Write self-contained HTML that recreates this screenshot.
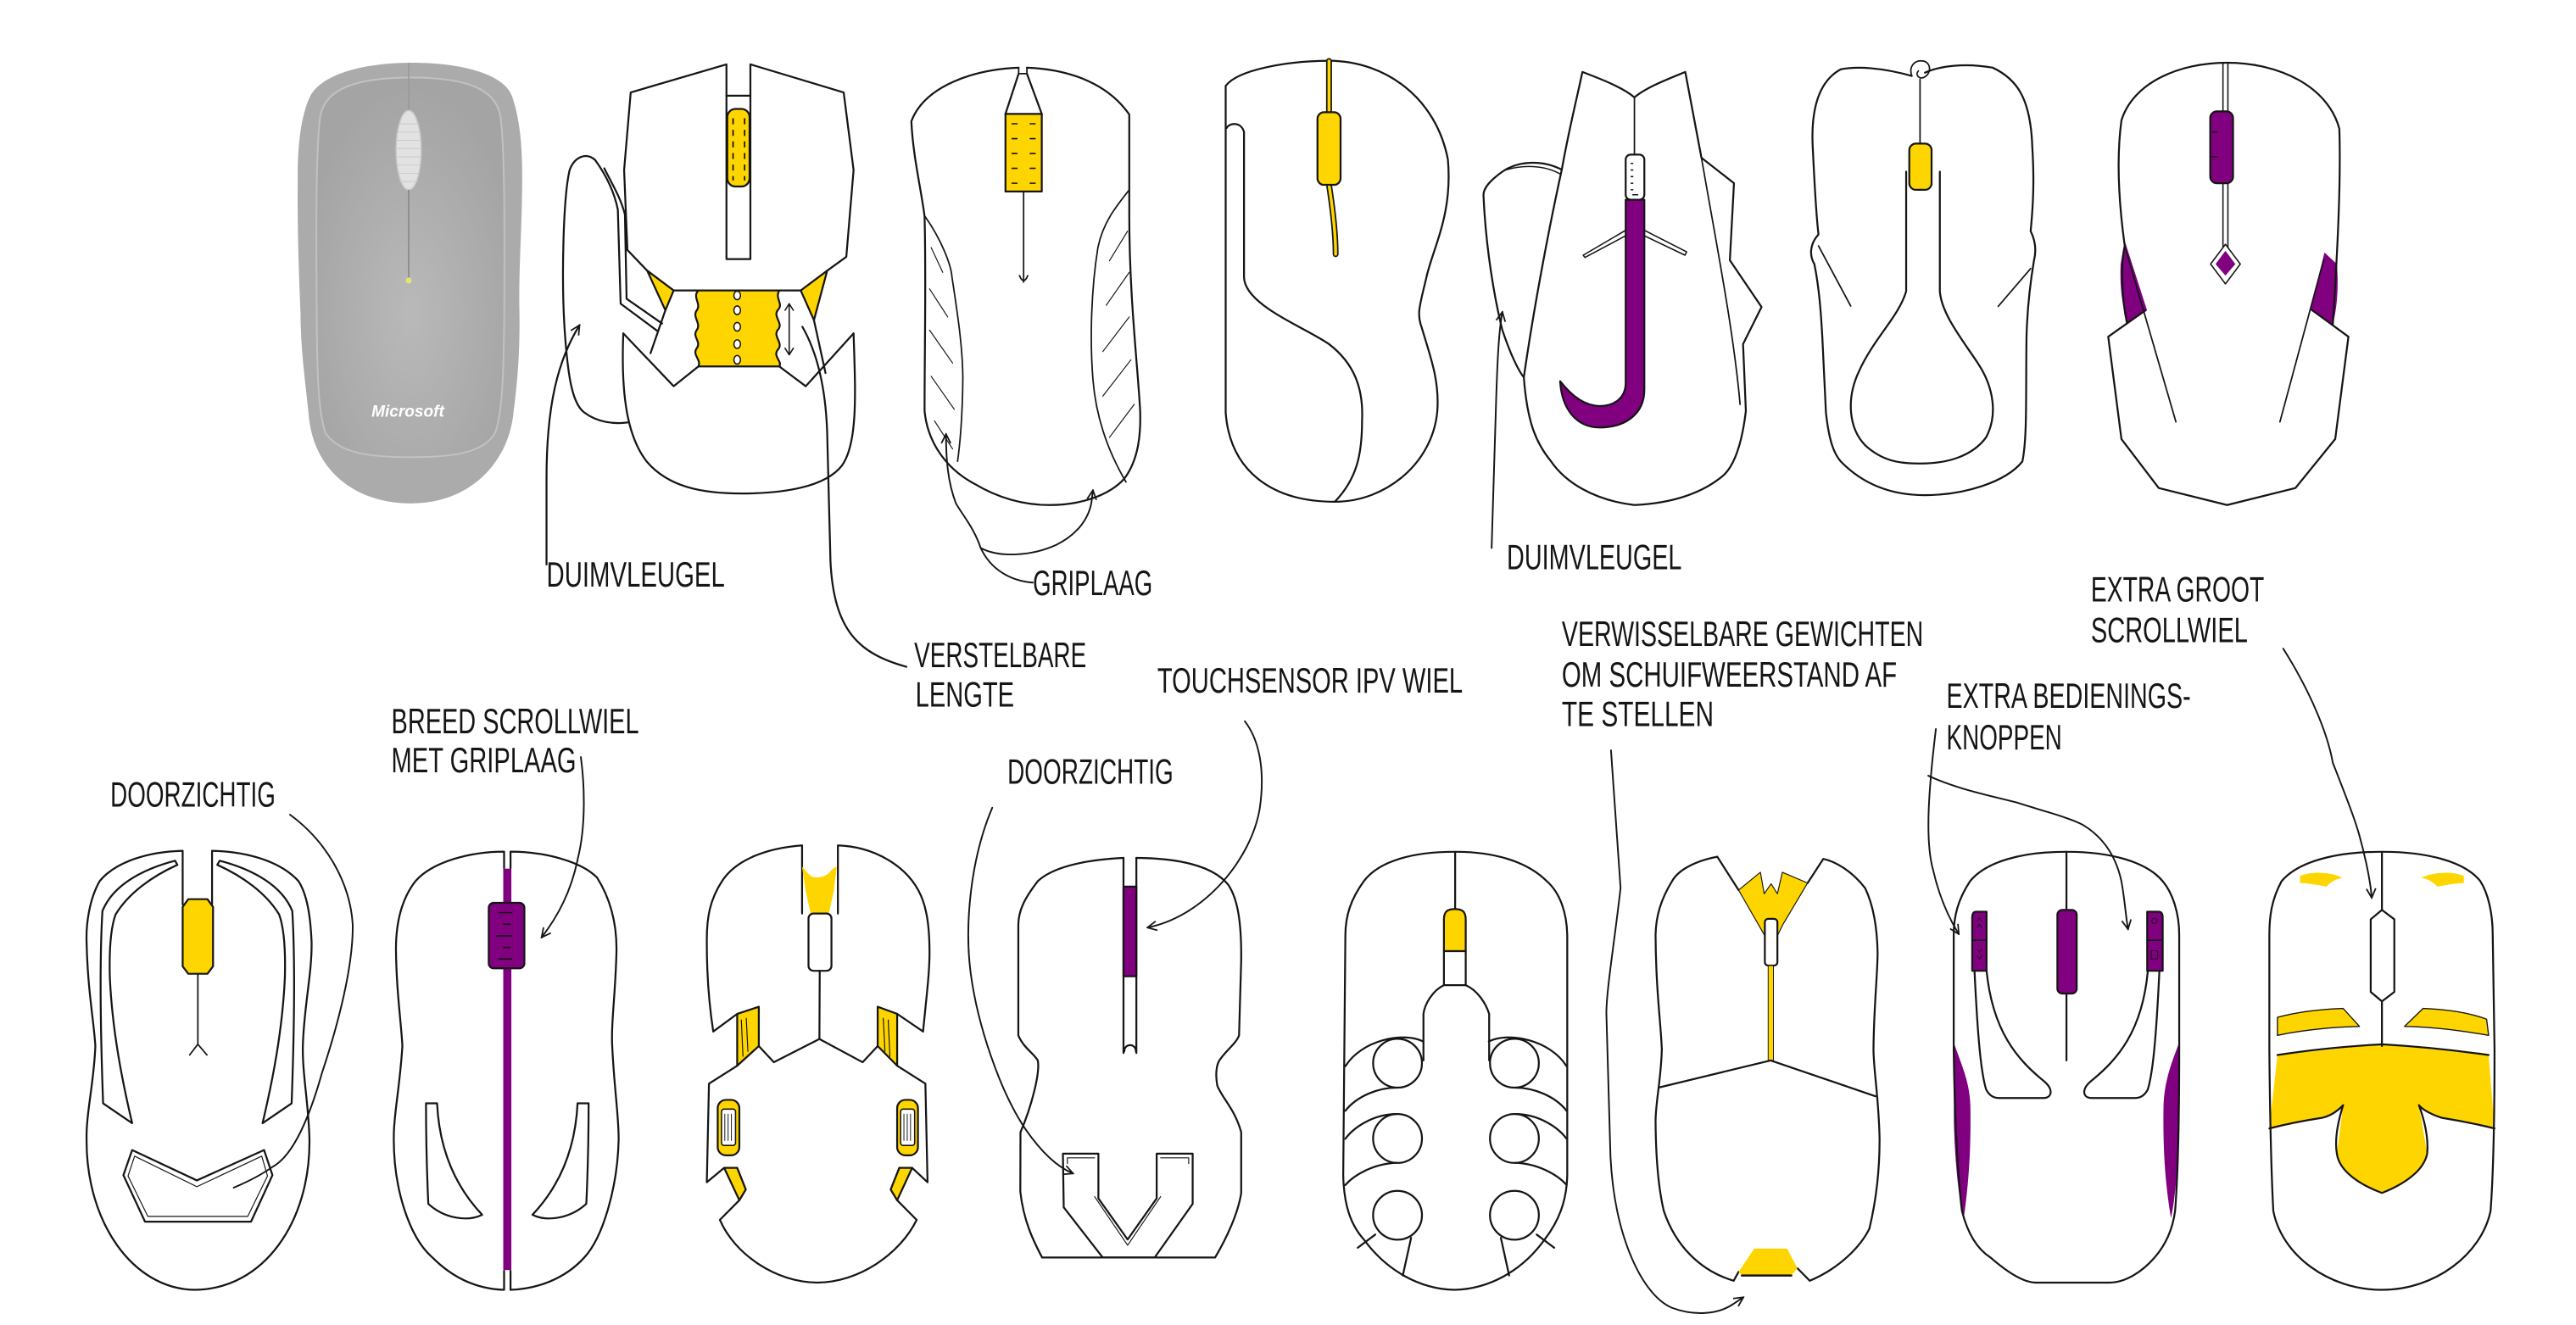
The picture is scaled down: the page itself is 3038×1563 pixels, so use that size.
<!DOCTYPE html>
<html><head><meta charset="utf-8"><style>
html,body{margin:0;padding:0;background:#fff;}
svg{display:block;}
text{font-family:"Liberation Sans Narrow","Liberation Sans",sans-serif;font-size:21.5px;fill:#151515;}
</style></head><body>
<svg width="3038" height="1563" viewBox="0 0 1560.3 802.8" xmlns="http://www.w3.org/2000/svg">
<defs>
<marker id="ah" viewBox="0 0 10 10" refX="9" refY="5" markerWidth="7" markerHeight="7" markerUnits="userSpaceOnUse" orient="auto"><path d="M1,1 L9,5 L1,9" fill="none" stroke="#151515" stroke-width="1.3"/></marker>
<radialGradient id="gg" cx="0.5" cy="0.62" r="0.6"><stop offset="0" stop-color="#b9b9b9"/><stop offset="1" stop-color="#a4a4a4"/></radialGradient>
</defs>
<rect width="1560.3" height="802.8" fill="#fff"/>

<!-- ============ GREY MICROSOFT MOUSE ============ -->
<path d="M249,38 C280,38 305,45 310,58 C316,75 316.5,95 316.2,115 C316,140 314,165 314.6,190 C315,215 313,235 311,250 C308,280 285,305 249,305 C215,305 190,285 187,252 C185,232 182,212 182,190 C181,165 180,140 180.3,110 C180,90 182,70 188,58 C195,45 220,38 249,38 Z" fill="#ababab"/>
<path d="M249,47 C285,47 300,55 303,70 C306,90 305.5,150 305.4,190 C305,230 304,250 300,262 C293,275 272,277 249,277 C225,277 205,275 197,262 C193,250 192,230 191.8,190 C191.6,150 191,90 194,70 C197,55 213,47 249,47 Z" fill="url(#gg)" stroke="#c2c2c2" stroke-width="1"/>
<line x1="247.5" y1="38" x2="247.5" y2="67" stroke="#999" stroke-width="0.8"/>
<ellipse cx="247.5" cy="91" rx="7.6" ry="24" fill="#e2e2e2" stroke="#c8c8c8" stroke-width="0.8"/>
<g stroke="#c9c9c9" stroke-width="0.5">
<line x1="242" y1="75" x2="253" y2="75"/><line x1="241" y1="80" x2="254" y2="80"/><line x1="240.5" y1="85" x2="254.5" y2="85"/><line x1="240.5" y1="90" x2="254.5" y2="90"/><line x1="240.5" y1="95" x2="254.5" y2="95"/><line x1="240.5" y1="100" x2="254.5" y2="100"/><line x1="241" y1="105" x2="254" y2="105"/><line x1="242" y1="110" x2="253" y2="110"/></g>
<line x1="247.5" y1="115" x2="247.5" y2="168" stroke="#8a8a8a" stroke-width="0.9"/>
<circle cx="247.5" cy="170" r="1.8" fill="#dfe86a"/>
<text x="225" y="252.5" textLength="44" lengthAdjust="spacingAndGlyphs" style="font-family:'Liberation Sans',sans-serif;font-size:10px;font-weight:bold;font-style:italic;fill:#fff;">Microsoft</text>

<g fill="none" stroke="#151515" stroke-width="1.15" stroke-linejoin="round" stroke-linecap="round">

<!-- ============ TOP MOUSE 2 (adjustable) ============ -->
<path d="M360.5,97 C355,92 348,95 345,103 C341,120 340,170 342,200 C344,230 347,245 354,250 C362,256 372,257 380,256"/>
<path d="M360.5,97 C367,106 372,116 374.2,127 L375.9,184 L398,200.4"/>
<path d="M366,102 C371,112 376,120 378.5,130 L379.5,181 L401,196"/>
<path d="M382,56 L440,39 L440,157 L454.5,157 L454.5,39 L511,56 L517,103 L512.6,155.6 L501,164 L487,176 L423,176 L408,176 L392,164 L380,151.5 L378,103 Z" fill="#fff"/>
<line x1="440" y1="58" x2="454.5" y2="58"/>
<path d="M392,164 L408,176 L403,188 Z" fill="#FFD500"/>
<path d="M501,164 L485,176 L493,194 Z" fill="#FFD500"/>
<path d="M377.5,202 L408,234 L423,222"/>
<path d="M517,202 L488,234 L472,222"/>
<path d="M403,188 L394,214"/>
<path d="M493,194 L500,226"/>
<path d="M377.5,202 C376,240 380,265 392,280 C405,295 425,299 449,299 C475,299 500,295 510,282 C520,268 518,235 517,202"/>
<rect x="440.5" y="66" width="13.5" height="47" rx="5" fill="#FFD500"/>
<g stroke-width="0.9"><path d="M444,72 v3 M444,79 v3 M444,86 v3 M444,93 v3 M444,100 v3 M444,107 v2 M451,72 v3 M451,79 v3 M451,86 v3 M451,93 v3 M451,100 v3 M451,107 v2"/></g>
<path d="M423,176 L472,176 C469,181 475,184 471,188 C468,192 475,196 471,200 C468,204 475,208 471,212 C468,216 474,219 472,222 L423,222 C425,218 419,215 422,211 C425,207 419,204 422,200 C425,196 419,192 422,188 C425,184 419,180 423,176 Z" fill="#FFD500"/>
<g fill="#fff" stroke-width="0.8">
<ellipse cx="446.5" cy="179" rx="2" ry="2.6"/><ellipse cx="446.5" cy="188" rx="2" ry="2.6"/><ellipse cx="446.5" cy="198" rx="2" ry="2.6"/><ellipse cx="446.5" cy="208.5" rx="2" ry="2.6"/><ellipse cx="446.5" cy="218" rx="2" ry="2.6"/></g>
<path d="M478,185 L478,214 M475.5,188 L478,184 L480.5,188 M475.5,211 L478,215 L480.5,211" stroke-width="0.8"/>
<path d="M331,342 L331,290 C331,245 338,218 351,197" marker-end="url(#ah)"/>
<path d="M549,404 C520,396 505,382 503,340 L501,262 C500,232 494,212 486,198"/>

<!-- ============ TOP MOUSE 3 (griplaag) ============ -->
<path d="M617,41 C590,42 560,52 552,73.5 C553,95 558,115 560,131 C561,170 560,210 560,249 C562,270 575,285 590,293 C605,302 620,306 635.6,306 C655,306 672,300 681,290 C690,278 691,262 690.6,249 C689,220 684,180 684,130 L684,69.4 C672,52 650,42 622,41"/>
<path d="M617,41 L617,44.6 L622,44.6 L622,41" stroke-width="0.9"/>
<path d="M617,44.6 L609,69 M622,44.6 L631,69"/>
<path d="M609,69 L631,69 L631,116 L609,116 Z" fill="#FFD500"/>
<g stroke-width="0.8"><path d="M613,75 h3 M613,84 h3 M613,93 h3 M613,102 h3 M613,111 h3 M624,75 h3 M624,84 h3 M624,93 h3 M624,102 h3 M624,111 h3"/></g>
<path d="M620,116 L620,171 M617.5,167 Q620,173 622.5,167" stroke-width="0.9"/>
<path d="M560.4,131.3 C570,145 576,160 576.6,167.8 C580,190 583,210 583.2,228.8 C583,250 582,265 580,279.5" stroke-width="0.9"/>
<g stroke-width="0.6"><path d="M564,150 L571,165 M563,175 L574,192 M563,200 L577,220 M564,228 L578,248 M566,255 L577,272"/></g>
<path d="M684,115 C676,125 668,135 665,150 C661,175 660,205 662,230 C664,255 672,275 682,292" stroke-width="0.9"/>
<g stroke-width="0.6"><path d="M683,140 L672,158 M684,165 L670,185 M684,192 L668,213 M685,218 L668,240 M687,245 L672,265"/></g>
<path d="M625.6,353 C612,352 600,345 594,332 C590,320 583,312 579,305 C574,292 573,278 573,263" stroke-width="1" marker-end="url(#ah)"/>
<path d="M594,332 C605,338 625,337 640,330 C652,324 659,315 661,305 L662,297" stroke-width="1" marker-end="url(#ah)"/>

<!-- ============ TOP MOUSE 4 (S-line) ============ -->
<path d="M742.4,52 C750,42 780,37 805,36.8 C840,37 870,60 877,96.6 C880,130 868,150 864,168 C860,185 858,190 861,198 C866,215 872,230 870.6,249 C868,280 840,304 808.5,304 C770,304 745,285 742.4,250 Z"/>
<path d="M743,77.5 C745,74 752,74 753.5,80 L753.5,168 C754,185 790,198 805,208.5 C820,220 826,235 825,255 C825,275 822,290 808.5,304"/>
<path d="M805,37 L805,68 M805,112 C807,125 809,140 809,154" stroke="#151515" stroke-width="3.6"/>
<path d="M805,37 L805,68 M805,112 C807,125 809,140 809,154" stroke="#FFD500" stroke-width="1.8"/>
<rect x="798" y="68" width="14" height="44" rx="4" fill="#FFD500"/>

<!-- ============ TOP MOUSE 5 (J) ============ -->
<path d="M946,102.8 C935,97 920,97 910,104 C903,109 898,114 898.6,119 C900,150 905,180 910,200 C915,215 920,225 923,228.6"/>
<path d="M912,103 C925,99 938,101 946,106" stroke-width="0.8"/>
<path d="M958.5,43.6 C970,48 983,53 990,59 C997,53 1010,48 1020.8,43.6 L1030.6,95.6 L1050.3,111 L1047.8,157.7 L1067,186 L1055.8,208.5 L1057.5,249 C1055,270 1050,282 1044.4,287.6 C1030,300 1010,305 990,306 C965,303 948,292 939.4,279.4 C930,268 925,255 923,228.6 C930,180 940,130 946,102.8 C950,80 955,60 958.5,43.6 Z" fill="#fff"/>
<path d="M1030.6,95.6 C1040,150 1050,200 1054,245" stroke-width="0.9"/>
<line x1="990" y1="59" x2="990" y2="94" stroke-width="0.9"/>
<path d="M989,137 L959,154.6 L960,156 L990,140 M991,137 L1021.6,152.6 L1020.6,154.6 L990,140" stroke-width="0.8"/>
<rect x="984.7" y="93.7" width="11.3" height="27.3" rx="3" fill="#fff"/>
<g stroke-width="0.8"><path d="M988,99 h1 M988,103 h1 M988,107 h1 M988,111 h1 M988,115 h1 M989,118 h3"/></g>
<path d="M984.7,121 H996 V236 C996,252 983,259 969,259 C955,259 946,248 945,231 C952,240 960,246 969,246 C979,246 984.7,240 984.7,232 Z" fill="#800080"/>
<path d="M903.5,332 L906,250 C907,215 908,200 910,189" stroke-width="1" marker-end="url(#ah)"/>

<!-- ============ TOP MOUSE 6 (drop) ============ -->
<path d="M1158,46 C1140,41 1125,40 1115,42 C1100,50 1097,70 1098,89 C1099,110 1100,130 1101.5,142 C1096,148 1096,155 1099,160 C1102,175 1103,190 1103.8,204 L1106,250 C1108,268 1111,275 1115,279.6 C1130,295 1148,300 1165.7,300 C1190,300 1215,292 1225,279.6 C1228,265 1227,240 1227.5,204 C1228,185 1230,170 1232,158 C1234,150 1232,144 1230,140 C1232,120 1232,105 1231,89 C1230,60 1222,48 1207,41 C1190,38 1175,40 1166,44"/>
<path d="M1158,46 C1156,40 1160,36 1165,37 C1170,38 1170,45 1165,47 C1162,48 1160,45 1162,43" stroke-width="0.9"/>
<line x1="1163" y1="48" x2="1163" y2="87" stroke-width="0.9"/>
<rect x="1156.5" y="87" width="13.5" height="28" rx="4" fill="#FFD500"/>
<path d="M1154.6,104 L1154.6,176.5 C1150,192 1135,205 1126,225 C1118,242 1120,260 1130,270 C1140,279 1150,281 1163,280.8 C1180,281 1195,276 1203,265 C1210,252 1208,235 1198,220 C1188,205 1176,190 1175,176.5 L1175,104"/>
<path d="M1101.5,149 L1121,185.4 M1230,162.7 L1210.4,185.6" stroke-width="0.9"/>

<!-- ============ TOP MOUSE 7 (diamond) ============ -->
<path d="M1287,146 L1300.5,188 L1289,196 C1285,185 1284,172 1284.5,160 Z" fill="#800080" stroke="none"/>
<path d="M1408,153 L1399.5,188 L1413,197 C1416,185 1416.5,172 1415.5,160 Z" fill="#800080" stroke="none"/>
<path d="M1288.4,196 C1285,180 1284.5,160 1287,149 C1283,120 1282,95 1285,73 C1292,50 1320,38 1349,38 C1380,38 1410,52 1417,78 C1418,110 1416,150 1413,197"/>
<path d="M1299.6,188 L1277,204 L1285,266 L1307.6,295.7 L1349,306 L1390.4,295.7 L1414.5,266 L1422.5,204 L1400.6,188"/>
<path d="M1287,149 L1318,255.6 M1407.6,157 L1381,255.6" stroke-width="0.9"/>
<path d="M1346.5,38 L1346.5,151 M1349.5,38 L1349.5,151" stroke-width="0.8"/>
<rect x="1338.8" y="67.5" width="13.8" height="43.5" rx="4" fill="#800080"/>
<path d="M1340,80 h3 M1340,95 h3" stroke-width="0.8"/>
<path d="M1348,148 L1357,160 L1348,172 L1339,160 Z" fill="#fff" stroke-width="0.8"/>
<path d="M1348,152 L1354,160 L1348,167 L1342,160 Z" fill="#800080" stroke="none"/>

<!-- ============ BOTTOM B1 (doorzichtig) ============ -->
<path d="M110.6,548 L110.6,515.5 C90,516 70,522 60.3,533.9 C54,545 52,560 52.4,570.8 C53,600 57,620 57.7,633.8 C57,655 52,675 52.4,690.3 C52,740 80,781 118,781.5 C160,781 188,740 187.4,690.3 C187,670 183,650 183.4,633.8 C184,610 189,590 188.7,570.8 C188,555 186,542 180.8,533.9 C170,522 150,516 128.4,515.5 L128.4,548"/>
<path d="M114,544.8 L125.6,544.8 L129,549.5 L129,585.5 L125.6,590 L114,590 L110.6,585.5 L110.6,549.5 Z" fill="#FFD500"/>
<path d="M119.8,590 L119.8,632.7 L114.8,639.2 M119.8,632.7 L125.3,639.2" stroke-width="0.9"/>
<path d="M106,521.5 C85,527 68,537 62,552 C60,585 61,630 62.4,668.5 L80,680.5 C74,655 68,625 66.5,592.5 C66,575 67,562 70,554 C78,541 92,531 107.4,524 Z"/>
<path d="M133,521.5 C154,527 171,537 177,552 C179,585 178,630 176.6,668.5 L159,680.5 C165,655 171,625 172.5,592.5 C173,575 172,562 169,554 C161,541 147,531 131.6,524 Z"/>
<path d="M80,696.8 L119.2,715.2 L159.9,696.8 L165,712 L152,740.2 L87.8,740.2 L74.7,712 Z"/>
<path d="M81.5,700.5 L119.2,719 L158.5,700.5 L162,712.5 L150,737 L89.5,737 L77.5,712.5 Z" stroke-width="0.6"/>
<path d="M175.6,493.6 C198,510 212,535 213.6,560 C214,585 205,620 195,650 C188,675 178,700 165,707 C158,712 150,716 141.5,719.6" stroke-width="1"/>

<!-- ============ BOTTOM B2 (breed scrollwiel) ============ -->
<path d="M305.3,526 L305.3,516 C285,516 262,522 251.6,533.9 C243,545 239.8,560 239.8,575 C240,600 243,620 243.7,633.8 C242,660 238.5,675 238.5,688 C238,720 248,750 262,762 C275,775 290,781 305.3,781.5 L305.3,770"/>
<path d="M309.2,526 L309.2,516 C330,516 352,522 361.6,531.7 C370,545 373.4,560 373.4,575 C373,600 370,620 370.8,633.8 C372,660 374.7,675 374.7,690.3 C374,720 365,750 353.8,762 C342,775 325,781 309.2,781.5 L309.2,770"/>
<rect x="304.8" y="526.3" width="4.9" height="243.2" fill="#800080" stroke="none"/>
<rect x="296" y="547" width="21.6" height="39.7" rx="3" fill="#800080"/>
<path d="M302,553 h8 M305,560 h4 M301,567 h9 M305,574 h4 M302,581 h8" stroke-width="0.8"/>
<path d="M258,668.5 H264.7 C266,695 275,718 292,736 C284,740 270,739 259.4,729.4 C258.5,710 258,690 258,668.5 Z"/>
<path d="M356.5,668.5 H349.8 C348.5,695 339.5,718 322.5,736 C330.5,740 344.5,739 355.1,729.4 C356,710 356.5,690 356.5,668.5 Z"/>
<path d="M351.8,458.7 C354,475 355,500 350,520 C346,540 338,555 328,568" stroke-width="1" marker-end="url(#ah)"/>

<!-- ============ BOTTOM B3 ============ -->
<path d="M485.8,553.5 L485.8,512.2 C462,514 445,522 437.3,533.9 C430,545 428,556 428.1,570 C428,595 430,612 432,625 L446.5,614.3 L459.6,610 L459.6,633.8 L468.7,643.6 L496.3,629.5 L522.5,643.6 L531.6,633.8 L531.6,610 L543.4,614.3 L559.1,625 C561,605 563,590 563,577.3 C563,560 561,550 557.8,542.6 C550,525 530,513 507.5,512.2 L507.5,553.5"/>
<path d="M446.5,614.3 L459.6,610 L459.6,633.8 L446.5,645.7 Z" fill="#FFD500"/>
<path d="M531.6,610 L543.4,614.3 L543.4,645.7 L531.6,633.8 Z" fill="#FFD500"/>
<path d="M449,618 L450,640 M452,617 L453,637 M535,617 L536,637 M538,618 L539,640" stroke-width="0.6"/>
<path d="M485.8,525.2 C488,527 490,531 493,531.5 C496,532 500,531 502,529 C504,527 505,525.5 506.8,525.2 L505,540 L502,553.5 L491,553.5 L488,540 Z" fill="#FFD500" stroke="none"/>
<rect x="489.7" y="553.5" width="13.9" height="34.7" rx="3" fill="#fff"/>
<line x1="496.5" y1="588.2" x2="496.3" y2="629.5"/>
<path d="M446.5,645.7 L429.4,656.6 L428.1,716.3 L438.6,707.6 L446.5,707.6 L451.7,720.7 L447.8,727.2 L436,739.1 C445,760 470,777 495,777.1 C520,777 545,760 555.2,739.1 L543.4,727.2 L539.5,720.7 L544.7,707.6 L552.5,707.6 L561.8,716.3 L560.5,656.6 L543.4,645.7"/>
<path d="M438.6,707.6 L446.5,707.6 L451.7,720.7 L447.8,727.2 Z" fill="#FFD500"/>
<path d="M552.5,707.6 L544.7,707.6 L539.5,720.7 L543.4,727.2 Z" fill="#FFD500"/>
<rect x="434.7" y="666.4" width="13.1" height="33.6" rx="5" fill="#FFD500"/>
<rect x="437" y="672" width="8.5" height="22" rx="1.5" fill="#fff" stroke-width="0.8"/>
<path d="M439,675 v16 M441,675 v16 M443,675 v16" stroke-width="0.5"/>
<rect x="543.4" y="666.4" width="12.6" height="33.6" rx="5" fill="#FFD500"/>
<rect x="545.5" y="672" width="8.5" height="22" rx="1.5" fill="#fff" stroke-width="0.8"/>
<path d="M547.5,675 v16 M549.5,675 v16 M551.5,675 v16" stroke-width="0.5"/>

<!-- ============ BOTTOM B4 (touch) ============ -->
<path d="M680.5,519.8 C655,521 637,526 628.6,533.9 C620,545 617,552 616.8,560 L616.8,627.3 C620,635 626,638 628.6,642.5 C630,650 625,670 618.1,686 L618,722 C620,740 626,752 631.2,761.9 L736,761.9 C743,750 750,735 751.8,722.8 L751.8,686 C748,672 740,665 737.3,657.7 C736,650 737,645 738.6,642.5 C742,637 749,632 750.5,627.3 L751.8,581.7 C752,560 750,545 743.9,536 C735,525 715,520 688.3,519.8"/>
<path d="M680.5,519.8 L680.5,638 M688.3,519.8 L688.3,638 M681,637 C681,632 688,632 688,637"/>
<rect x="680.5" y="537.2" width="7.8" height="54.3" fill="#800080"/>
<path d="M643.8,699 H665.3 V726.1 L683,751 L700.6,726.1 V699 H722.4 V729.4 L699.4,761.9 H667.9 L644.3,731.5 Z"/>
<path d="M646.5,701.5 H663 M646.5,701.5 V705 M720,701.5 H703 M720,701.5 V705 M663,725 L683,754.5 L703,725" stroke-width="0.6"/>
<path d="M754,437 C764,450 766,470 763,490 C758,520 730,555 695,562" stroke-width="1" marker-end="url(#ah)"/>
<path d="M601,489.4 C588,520 584,560 588,590 C592,620 605,660 621,684 C630,697 640,707 650,711" stroke-width="1" marker-end="url(#ah)"/>

<!-- ============ BOTTOM B5 (circles) ============ -->
<path d="M881.4,516.1 C855,516 835,522 826.1,533.9 C818,545 815,555 814.9,566.5 L813.6,712 C814,730 818,742 826.1,751 C840,770 860,781 880.9,781.5 C902,781 922,770 935.6,751 C944,740 949,728 949.3,712 L949.3,566.5 C949,553 945,541 936.9,533.9 C925,522 905,516 881.4,516.1 Z"/>
<line x1="881.4" y1="516.1" x2="881.4" y2="551"/>
<path d="M874.6,557 C874.6,552 877,550.8 881.2,550.8 C885.4,550.8 887.8,552 887.8,557 L887.8,576.3 L874.6,576.3 Z" fill="#FFD500"/>
<rect x="874.6" y="576.3" width="13.2" height="20.6" fill="#fff"/>
<path d="M874.6,596.9 C868,600 863,608 862.2,614.3 L862.2,642.5 M887.8,596.9 C895,600 900,608 902,614.3 L902,642.5"/>
<g>
<circle cx="846.5" cy="644.2" r="14.8"/><circle cx="846.5" cy="689.8" r="14.8"/><circle cx="846.5" cy="736.3" r="14.8"/>
<circle cx="917.3" cy="644.2" r="14.8"/><circle cx="917.3" cy="689.8" r="14.8"/><circle cx="917.3" cy="736.3" r="14.8"/>
</g>
<path d="M862,631 C850,625 825,630 814.9,646 M846,659 C835,659 822,664 814.9,673 M846,675 C832,675 820,683 814.9,690 M846,704.5 C832,705 820,712 814.9,718 M833,748 L822.4,756 M854.7,750 L849.7,772.8"/>
<path d="M901.8,631 C913.8,625 938.8,630 948.9,646 M917.8,659 C928.8,659 941.8,664 948.9,673 M917.8,675 C931.8,675 943.8,683 948.9,690 M917.8,704.5 C931.8,705 943.8,712 948.9,718 M930.8,748 L941.4,756 M909.1,750 L914.1,772.8"/>

<!-- ============ BOTTOM B6 (weights) ============ -->
<path d="M1040.2,519.1 C1025,522 1016,528 1012.8,533.9 C1006,545 1003,555 1002.8,566.5 C1003,600 1006,620 1006.6,636 C1006,655 1002.8,668 1002.8,679.4 C1003,705 1005,722 1007.8,733.7 C1015,755 1030,770 1050.1,776 L1053.1,770.6"/>
<path d="M1088.7,768.4 L1096.2,776 C1115,768 1127,755 1132.3,744.5 C1137,725 1138.5,705 1138.5,690.3 C1138,665 1135,650 1134.8,636 C1135,610 1137.3,590 1137.3,577.3 C1137,560 1134,547 1129.8,538.2 C1122,528 1112,522 1104.4,520.4 L1094.9,535"/>
<path d="M1040.2,519.1 L1053.1,539.3"/>
<path d="M1053.1,539.3 L1066.3,528.5 L1068.6,541.5 L1072.8,535.5 L1076.6,541.5 L1079.6,528.5 L1094.9,535 L1080,560 L1076.6,567 L1069,567 L1065,560 Z" fill="#FFD500" stroke-width="0.6"/>
<rect x="1069" y="556.7" width="7.6" height="28.3" rx="2" fill="#fff"/>
<rect x="1071" y="585" width="3.2" height="57.5" fill="#FFD500" stroke-width="0.5"/>
<path d="M1072.5,642.5 L1005.3,658.8 M1072.5,642.5 L1136,664.2"/>
<path d="M1053.1,770.6 L1062.6,756.5 L1082.5,756.5 L1088.7,768.4 L1085,772.8 L1055.1,772.8 Z" fill="#FFD500" stroke="none"/>
<path d="M1055.1,772.8 L1085,772.8" stroke-width="1.3"/>
<path d="M975.8,454.6 L981.6,538 C978,570 973,600 973,614 L975.5,701 C978,750 995,785 1012.8,792.4 C1025,797 1040,797 1050,790 L1056,786" stroke-width="1" marker-end="url(#ah)"/>

<!-- ============ BOTTOM B7 (extra buttons) ============ -->
<path d="M1183.4,631.6 C1188,645 1193,655 1193.5,670 C1194,700 1192,720 1189.5,738 C1186,725 1184,700 1183.5,680 Z" fill="#800080" stroke="none"/>
<path d="M1320,631.6 C1315,645 1311,655 1310.5,670 C1310,700 1312,720 1315,738 C1318,725 1319.5,700 1320,680 Z" fill="#800080" stroke="none"/>
<path d="M1251.7,516.1 C1225,516 1203,522 1193.3,533.9 C1186,545 1183.4,555 1183.4,566.5 L1183.4,636 C1184,680 1186,715 1188.4,733.7 C1192,748 1198,757 1205.8,762 C1215,770 1225,777 1233,777.1 L1277.8,777.1 C1288,777 1298,770 1305,762 C1312,754 1316,745 1317.5,733.7 C1319,715 1320,680 1320,636 L1320,566.5 C1320,553 1316,541 1310,533.9 C1300,522 1278,516 1251.7,516.1 Z"/>
<line x1="1251.7" y1="516.1" x2="1251.7" y2="642.5"/>
<rect x="1246.2" y="551.3" width="11.7" height="50.7" rx="3" fill="#800080"/>
<path d="M1197,552.4 L1203.3,552.4 L1203.3,588.2 L1194.6,588.2 L1194.6,556 Q1194.6,552.4 1197,552.4 Z" fill="#800080"/>
<path d="M1194.6,569.7 H1203.3" stroke-width="0.8"/>
<path d="M1302.9,552.4 L1307.5,552.4 Q1310,552.4 1310,556 L1310,588.2 L1300.6,588.2 L1300.6,552.4 Z" fill="#800080"/>
<path d="M1300.6,569.7 H1310" stroke-width="0.8"/>
<path d="M1197.5,558 l1.5,-2 l1.5,2 M1197.5,562 l1.5,-2 l1.5,2 M1197.5,575 l1.5,2 l1.5,-2 M1197.5,579 l1.5,2 l1.5,-2" stroke-width="0.5"/>
<circle cx="1305" cy="558" r="1.6" stroke-width="0.5"/><path d="M1303,576 h4 v5 h-4 z" stroke-width="0.5"/>
<path d="M1196,588.2 C1198,630 1200,650 1203,660 C1205,664 1208,665.3 1211,665.3 L1238,665.3 C1243,665 1244,660 1238,655 C1222,642 1207,625 1203.3,588.2"/>
<path d="M1308,588.2 C1306,630 1304,650 1301,660 C1299,664 1296,665.3 1293,665.3 L1266.6,665.3 C1261.6,665 1260.6,660 1266.6,655 C1282.6,642 1297.6,625 1301,588.2"/>
<path d="M1172.6,441.7 C1168,480 1166,510 1171,527.4 C1175,545 1181,557 1186.5,566" stroke-width="1" marker-end="url(#ah)"/>
<path d="M1168,470 C1185,478 1205,482 1220.7,486 C1240,492 1255,496 1262,500 C1275,508 1282,520 1285,534 C1287,545 1287.6,555 1289,563" stroke-width="1" marker-end="url(#ah)"/>

<!-- ============ BOTTOM B8 (extra groot scrollwiel) ============ -->
<path d="M1379.5,639.2 L1442.8,632.7 L1507.4,639.2 L1511,683.7 C1500,680 1485,678 1478.8,677.2 C1472,675 1467,672 1465.2,669.6 L1470.2,699 C1468,710 1455,718 1442.8,722.8 C1430,718 1417,710 1415.5,699 L1419.3,669.6 C1416,673 1412,676 1406.8,677.2 C1395,679 1385,681 1374.6,683.7 Z" fill="#FFD500" stroke="none"/>
<path d="M1374.6,683.7 C1385,681 1395,679 1406.8,677.2 C1412,676 1416,673 1419.3,669.6 C1416,680 1414,690 1415.5,699 C1417,710 1430,718 1442.8,722.8 C1455,718 1468,710 1470.2,699 C1471,690 1469,680 1465.2,669.6 C1467,672 1472,675 1478.8,677.2 C1490,679 1500,681 1511,683.7"/>
<path d="M1379.5,639.2 C1400,636 1420,634 1442.8,632.7 C1465,634 1485,636 1507.4,639.2"/>
<path d="M1442.8,516.1 C1415,516 1392,522 1382,533.9 C1376,545 1374.6,555 1374.6,566.5 L1374.6,636 C1375,680 1376,715 1377,733.7 C1382,760 1410,781.5 1442.8,781.5 C1475,781.5 1503,760 1508.6,733.7 C1510,715 1511,680 1511,636 L1509.9,566.5 C1509.9,553 1507,541 1502.4,533.9 C1493,522 1470,516 1442.8,516.1 Z"/>
<path d="M1393.2,530.7 C1400,528 1410,528 1419,531.7 C1414,533 1411,535 1409.3,537.2 C1403,536 1397,535 1393.2,535 Z" fill="#FFD500" stroke="none"/>
<path d="M1492.4,530.7 C1485.6,528 1475.6,528 1466.6,531.7 C1471.6,533 1474.6,535 1476.3,537.2 C1482.6,536 1488.6,535 1492.4,535 Z" fill="#FFD500" stroke="none"/>
<path d="M1379.5,616.4 C1392,613 1405,611.5 1419.3,611 L1429.2,621.9 C1420,622 1415,622.5 1409.3,623 C1398,624 1388,625.5 1379.5,627.3 Z" fill="#FFD500" stroke-width="0.7"/>
<path d="M1506.2,617.5 C1494,613 1481,611.5 1467.7,611 L1456.5,621.9 C1465,622 1470,622.5 1476.3,623 C1487,624 1497,625.5 1507.4,627.3 Z" fill="#FFD500" stroke-width="0.7"/>
<line x1="1442.8" y1="516.1" x2="1442.8" y2="551.3"/>
<path d="M1442.8,551.3 L1450.3,557 L1450.3,601 L1442.8,606.7 L1436,601 L1436,557 Z" fill="#fff"/>
<line x1="1442.8" y1="606.7" x2="1442.8" y2="633.8"/>
<path d="M1383,393 C1400,420 1410,445 1413,462 C1420,480 1426,495 1429,505.7 C1433,520 1436,535 1436.6,544" stroke-width="1" marker-end="url(#ah)"/>
</g>

<!-- ============ LABELS ============ -->
<text x="331" y="355.5" textLength="108" lengthAdjust="spacingAndGlyphs">DUIMVLEUGEL</text>
<text x="625.6" y="360.5" textLength="72.5" lengthAdjust="spacingAndGlyphs">GRIPLAAG</text>
<text x="912.7" y="345" textLength="106" lengthAdjust="spacingAndGlyphs">DUIMVLEUGEL</text>
<text x="553.7" y="404.2" textLength="104.3" lengthAdjust="spacingAndGlyphs">VERSTELBARE</text>
<text x="554.5" y="428" textLength="59.8" lengthAdjust="spacingAndGlyphs">LENGTE</text>
<text x="701" y="419.6" textLength="185" lengthAdjust="spacingAndGlyphs">TOUCHSENSOR IPV WIEL</text>
<text x="946" y="391.3" textLength="219" lengthAdjust="spacingAndGlyphs">VERWISSELBARE GEWICHTEN</text>
<text x="946" y="416" textLength="203" lengthAdjust="spacingAndGlyphs">OM SCHUIFWEERSTAND AF</text>
<text x="946" y="440" textLength="92" lengthAdjust="spacingAndGlyphs">TE STELLEN</text>
<text x="1266.5" y="364.5" textLength="105" lengthAdjust="spacingAndGlyphs">EXTRA GROOT</text>
<text x="1266.5" y="389" textLength="95" lengthAdjust="spacingAndGlyphs">SCROLLWIEL</text>
<text x="1179" y="429" textLength="148" lengthAdjust="spacingAndGlyphs">EXTRA BEDIENINGS-</text>
<text x="1179" y="454" textLength="70" lengthAdjust="spacingAndGlyphs">KNOPPEN</text>
<text x="237" y="444.3" textLength="150" lengthAdjust="spacingAndGlyphs">BREED SCROLLWIEL</text>
<text x="237" y="468" textLength="112" lengthAdjust="spacingAndGlyphs">MET GRIPLAAG</text>
<text x="66.8" y="488.8" textLength="100" lengthAdjust="spacingAndGlyphs">DOORZICHTIG</text>
<text x="610.2" y="474.8" textLength="100.5" lengthAdjust="spacingAndGlyphs">DOORZICHTIG</text>
</svg>
</body></html>
